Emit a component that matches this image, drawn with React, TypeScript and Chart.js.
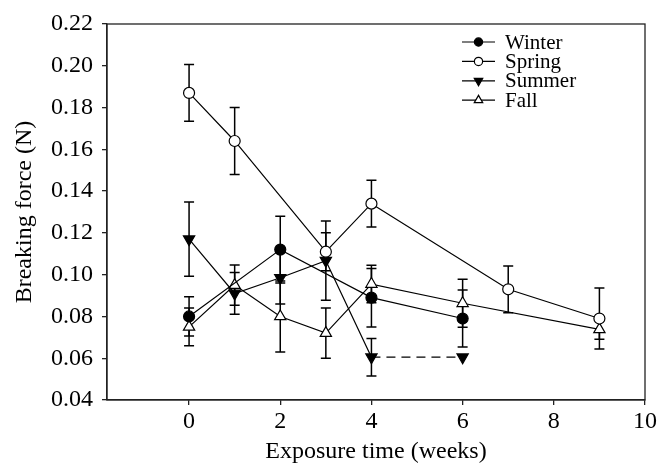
import React, { useEffect, useRef } from 'react';
import { Chart, registerables } from 'chart.js';

Chart.register(...registerables);

// ---- data ----
const seriesNames = ['Winter', 'Spring', 'Summer', 'Fall'];

const winterWeeks = [0, 2, 4, 6];
const winterForce = [0.080, 0.112, 0.089, 0.079];
const winterErr = [0.0094, 0.016, 0.014, 0.0136];

const springWeeks = [0, 1, 3, 4, 7, 9];
const springForce = [0.187, 0.164, 0.111, 0.134, 0.093, 0.079];
const springErr = [0.0136, 0.016, 0.0091, 0.0112, 0.0112, 0.0146];

const summerWeeks = [0, 1, 2, 3, 4, 6];
const summerForce = [0.117, 0.091, 0.0985, 0.1067, 0.0605, 0.0605];
const summerErr: (number | null)[] = [0.0178, 0.01, 0.0126, 0.019, 0.009, null];

const fallWeeks = [0, 1, 2, 3, 4, 6, 9];
const fallForce = [0.075, 0.095, 0.080, 0.072, 0.0955, 0.0863, 0.0738];
const fallErr = [0.009, 0.0096, 0.017, 0.012, 0.009, 0.0115, 0.0047];

const xTicks = [0, 2, 4, 6, 8, 10];
const yTicks = [0.04, 0.06, 0.08, 0.10, 0.12, 0.14, 0.16, 0.18, 0.20, 0.22];
const xLabel = 'Exposure time (weeks)';
const yLabel = 'Breaking force (N)';

const FONT = "'Liberation Serif', 'Times New Roman', serif";

const toPts = (xs: number[], ys: number[]) => xs.map((x, i) => ({ x, y: ys[i] }));

const markerStyles = [
  { style: 'circle', fill: '#000', r: 5.5, rot: 0 },
  { style: 'circle', fill: '#fff', r: 5.5, rot: 0 },
  { style: 'triangle', fill: '#000', r: 6.5, rot: 180 },
  { style: 'triangle', fill: '#fff', r: 6.5, rot: 0 },
];

function drawMarker(ctx: CanvasRenderingContext2D, kind: number, x: number, y: number, scale: number) {
  const m = markerStyles[kind];
  const r = m.r * scale;
  ctx.save();
  ctx.fillStyle = m.fill;
  ctx.strokeStyle = '#000';
  ctx.lineWidth = 1.2;
  ctx.setLineDash([]);
  ctx.beginPath();
  if (m.style === 'circle') {
    ctx.arc(x, y, r, 0, Math.PI * 2);
  } else {
    const s = m.rot ? -1 : 1;
    const h = r * 1.5;
    const half = (r * Math.sqrt(3)) / 2;
    ctx.moveTo(x, y - s * r);
    ctx.lineTo(x - half, y + s * (h - r));
    ctx.lineTo(x + half, y + s * (h - r));
    ctx.closePath();
  }
  ctx.fill();
  ctx.stroke();
  ctx.restore();
}

const errorBarPlugin = {
  id: 'errorBars',
  beforeDatasetsDraw(chart: any) {
    const { ctx, scales } = chart;
    const errs = [winterErr, springErr, summerErr, fallErr];
    ctx.save();
    ctx.strokeStyle = '#000';
    ctx.lineWidth = 1.5;
    chart.data.datasets.forEach((ds: any, di: number) => {
      ds.data.forEach((p: any, i: number) => {
        const e = errs[di][i];
        if (e == null) return;
        const x = scales.x.getPixelForValue(p.x);
        const y1 = scales.y.getPixelForValue(p.y + e);
        const y2 = scales.y.getPixelForValue(p.y - e);
        ctx.beginPath();
        ctx.moveTo(x, y1);
        ctx.lineTo(x, y2);
        ctx.moveTo(x - 5, y1);
        ctx.lineTo(x + 5, y1);
        ctx.moveTo(x - 5, y2);
        ctx.lineTo(x + 5, y2);
        ctx.stroke();
      });
    });
    ctx.restore();
  },
};

const framePlugin = {
  id: 'frame',
  afterDraw(chart: any) {
    const { ctx, chartArea: a } = chart;
    ctx.save();
    ctx.strokeStyle = '#222';
    ctx.lineWidth = 1.3;
    ctx.strokeRect(a.left, a.top, a.right - a.left, a.bottom - a.top);
    ctx.restore();
  },
};

const legendPlugin = {
  id: 'customLegend',
  afterDraw(chart: any) {
    const { ctx, chartArea: a } = chart;
    ctx.save();
    seriesNames.forEach((name, i) => {
      const y = a.top + 18 + i * 19.4;
      const x0 = a.right - 183;
      const x1 = a.right - 150;
      ctx.strokeStyle = '#000';
      ctx.lineWidth = 1.2;
      ctx.setLineDash([]);
      ctx.beginPath();
      ctx.moveTo(x0, y);
      ctx.lineTo(x1, y);
      ctx.stroke();
      drawMarker(ctx, i, (x0 + x1) / 2, y, 0.75);
      ctx.fillStyle = '#000';
      ctx.font = `21px ${FONT}`;
      ctx.textAlign = 'left';
      ctx.textBaseline = 'middle';
      ctx.fillText(name, a.right - 140, y + 1);
    });
    ctx.restore();
  },
};

export default function App() {
  const ref = useRef<HTMLCanvasElement>(null);

  useEffect(() => {
    if (!ref.current) return;
    const mk = (i: number, data: any[], extra: any = {}) => ({
      label: seriesNames[i],
      data,
      borderColor: '#000',
      borderWidth: 1.2,
      backgroundColor: markerStyles[i].fill,
      pointBackgroundColor: markerStyles[i].fill,
      pointBorderColor: '#000',
      pointBorderWidth: 1.2,
      pointStyle: markerStyles[i].style,
      pointRadius: markerStyles[i].r,
      pointRotation: markerStyles[i].rot,
      tension: 0,
      fill: false,
      ...extra,
    });
    const chart = new Chart(ref.current, {
      type: 'line',
      data: {
        datasets: [
          mk(0, toPts(winterWeeks, winterForce)),
          mk(1, toPts(springWeeks, springForce)),
          mk(2, toPts(summerWeeks, summerForce), {
            segment: {
              borderDash: (c: any) => (c.p0DataIndex === 4 ? [9, 6] : undefined),
            },
          }),
          mk(3, toPts(fallWeeks, fallForce)),
        ],
      },
      plugins: [errorBarPlugin, framePlugin, legendPlugin],
      options: {
        animation: false,
        responsive: false,
        devicePixelRatio: 1,
        layout: { padding: { left: 0, top: 24, right: 24, bottom: 0 } },
        plugins: { legend: { display: false }, tooltip: { enabled: false } },
        scales: {
          x: {
            type: 'linear',
            min: -1.8,
            max: 10,
            afterBuildTicks: (s: any) => {
              s.ticks = xTicks.map((v) => ({ value: v }));
            },
            afterFit: (s: any) => {
              s.height = 66;
            },
            grid: { drawOnChartArea: false, drawTicks: true, tickLength: 5, color: '#222', lineWidth: 1.3 },
            border: { display: true, color: '#222', width: 1.3 },
            ticks: {
              color: '#000',
              padding: 2,
              maxRotation: 0,
              font: { family: FONT, size: 24 },
              callback: (v: any) => String(v),
            },
            title: {
              display: true,
              text: xLabel,
              color: '#000',
              font: { family: FONT, size: 24 },
              padding: { top: 0, bottom: 0 },
            },
          },
          y: {
            type: 'linear',
            min: 0.04,
            max: 0.22,
            afterBuildTicks: (s: any) => {
              s.ticks = yTicks.map((v) => ({ value: v }));
            },
            afterFit: (s: any) => {
              s.width = 107;
            },
            grid: { drawOnChartArea: false, drawTicks: true, tickLength: 5, color: '#222', lineWidth: 1.3 },
            border: { display: true, color: '#222', width: 1.3 },
            ticks: {
              color: '#000',
              padding: 9,
              font: { family: FONT, size: 24 },
              callback: (v: any) => Number(v).toFixed(2),
            },
            title: {
              display: true,
              text: yLabel,
              color: '#000',
              font: { family: FONT, size: 24 },
              padding: { top: 10, bottom: 0 },
            },
          },
        },
      },
    } as any);
    return () => chart.destroy();
  }, []);

  return (
    <div style={{ position: 'absolute', left: 0, top: 0, width: 669, height: 466, background: '#fff' }}>
      <canvas ref={ref} width={669} height={466} style={{ width: 669, height: 466 }} />
    </div>
  );
}
